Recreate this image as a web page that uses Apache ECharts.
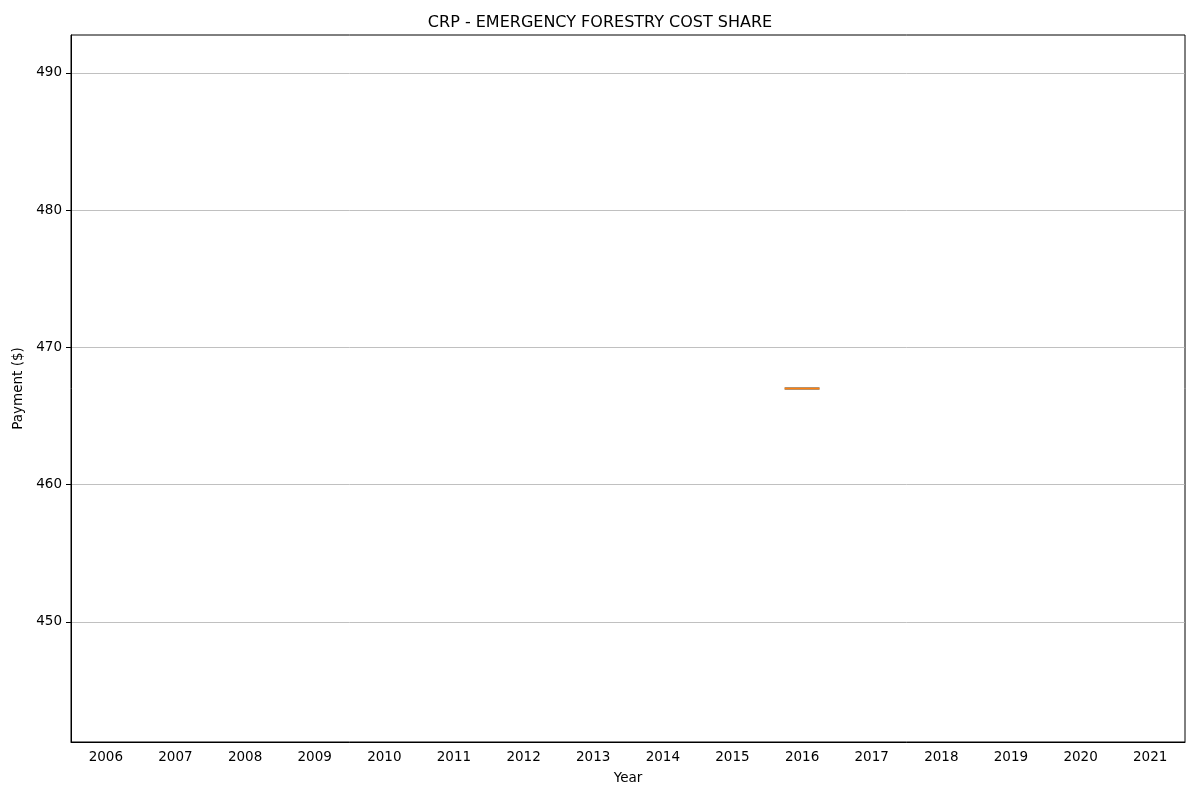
<!DOCTYPE html>
<html>
<head>
<meta charset="utf-8">
<script src="https://cdn.jsdelivr.net/npm/echarts@6/dist/echarts.min.js"></script>
<style>html,body{margin:0;padding:0;background:#fff;}#c{width:1200px;height:800px;}</style>
</head>
<body>
<div id="c"></div>
<script>
const years = ['2006','2007','2008','2009','2010','2011','2012','2013','2014','2015','2016','2017','2018','2019','2020','2021'];
const payments = [[],[],[],[],[],[],[],[],[],[],[467],[],[],[],[],[]];
const yTicks = [450, 460, 470, 480, 490];
const yMin = 441.25, yMax = 492.75;

function quantile(s, p) {
  const pos = (s.length - 1) * p, lo = Math.floor(pos), hi = Math.ceil(pos);
  return s[lo] + (s[hi] - s[lo]) * (pos - lo);
}
const boxData = payments.map(v => {
  if (!v.length) return '-';
  const s = v.slice().sort((a, b) => a - b);
  return [s[0], quantile(s, 0.25), quantile(s, 0.5), quantile(s, 0.75), s[s.length - 1]];
});
const medianData = [];
boxData.forEach((b, i) => { if (b !== '-') medianData.push([i, b[2]]); });

const font = 'DejaVu Sans';
const chart = echarts.init(document.getElementById('c'));
chart.setOption({
  animation: false,
  title: { text: 'CRP - EMERGENCY FORESTRY COST SHARE', left: 'center', top: 10,
    textStyle: { fontFamily: font, fontSize: 16, fontWeight: 'normal', color: '#000' } },
  grid: { left: 71, right: 15, top: 35, bottom: 58, outerBoundsMode: 'none', containLabel: false,
    show: true, borderColor: '#000', borderWidth: 1, backgroundColor: 'transparent' },
  xAxis: {
    type: 'category', data: years, boundaryGap: true,
    name: 'Year', nameLocation: 'middle', nameGap: 29,
    nameTextStyle: { fontFamily: font, fontSize: 13.5, color: '#000' },
    axisLine: { lineStyle: { color: '#000', width: 1 } },
    axisTick: { alignWithLabel: true, length: 5, lineStyle: { color: '#000' } },
    axisLabel: { fontFamily: font, fontSize: 13.5, color: '#000', margin: 8, interval: 0 },
    splitLine: { show: false }
  },
  yAxis: {
    type: 'value', min: yMin, max: yMax,
    name: 'Payment ($)', nameLocation: 'middle', nameGap: 40, nameRotate: 90,
    nameTextStyle: { fontFamily: font, fontSize: 13.5, color: '#000' },
    axisLine: { show: true, lineStyle: { color: '#000', width: 1 } },
    axisTick: { show: true, length: 5, lineStyle: { color: '#000' }, customValues: yTicks },
    axisLabel: { fontFamily: font, fontSize: 13.5, color: '#000', margin: 9, customValues: yTicks },
    splitLine: { show: true, lineStyle: { color: '#b0b0b0', width: 0.8 } }
  },
  series: [
    {
      type: 'boxplot', data: boxData, boxWidth: [35, 35],
      itemStyle: { color: 'rgba(210,180,140,0.7)', borderColor: '#b8926a', borderWidth: 3 }
    },
    {
      type: 'custom', data: medianData, z: 5,
      renderItem: function (params, api) {
        const c = api.coord([api.value(0), api.value(1)]);
        const w = api.size([1, 0])[0] * 0.5;
        return { type: 'line', shape: { x1: c[0] - w / 2, y1: c[1], x2: c[0] + w / 2, y2: c[1] },
          style: { stroke: '#ff7f0e', lineWidth: 1 } };
      }
    }
  ]
});
</script>
</body>
</html>
